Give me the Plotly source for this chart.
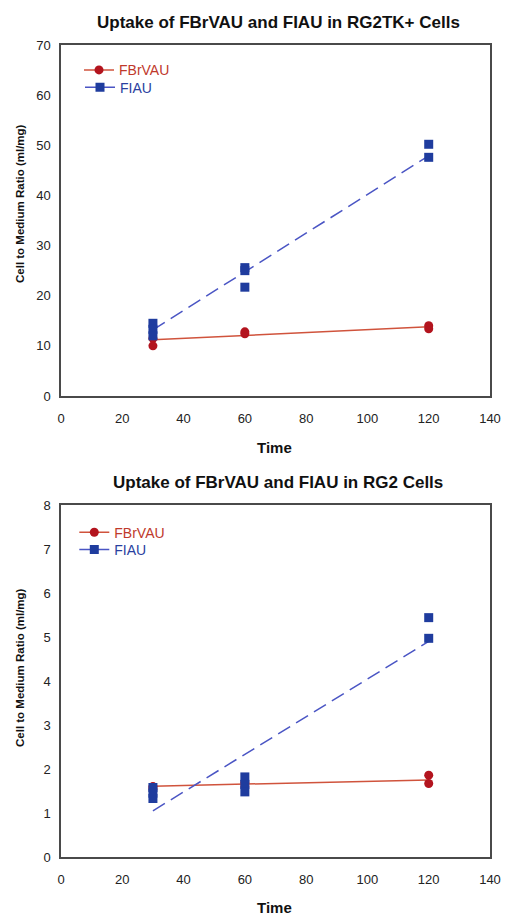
import plotly.graph_objects as go

W, H = 505, 915

# ---------- data ----------
time_fit = [30, 120]

# Top panel: RG2TK+ cells
top_fbr_x = [30, 30, 60, 60, 120, 120]
top_fbr_y = [10.0, 11.5, 12.4, 12.8, 13.4, 14.0]
top_fiau_x = [30, 30, 30, 60, 60, 60, 120, 120]
top_fiau_y = [14.5, 13.3, 12.0, 25.6, 25.0, 21.7, 50.2, 47.6]
top_fbr_fit = [11.2, 13.8]
top_fiau_fit = [13.2, 47.9]

# Bottom panel: RG2 cells
bot_fbr_x = [30, 30, 60, 60, 120, 120]
bot_fbr_y = [1.60, 1.55, 1.70, 1.60, 1.86, 1.67]
bot_fiau_x = [30, 30, 30, 60, 60, 60, 120, 120]
bot_fiau_y = [1.58, 1.45, 1.33, 1.82, 1.65, 1.48, 5.44, 4.97]
bot_fbr_fit = [1.61, 1.75]
bot_fiau_fit = [1.05, 4.90]

titles = ["Uptake of FBrVAU and FIAU in RG2TK+ Cells",
          "Uptake of FBrVAU and FIAU in RG2 Cells"]
y_title = "Cell to Medium Ratio (ml/mg)"
x_title = "Time"
series_names = ["FBrVAU", "FIAU"]

# ---------- styles ----------
FONT = "Liberation Sans, Arial, Helvetica, sans-serif"
RED_MK = "#B3141E"
RED_LN = "#D0533C"
BLUE_MK = "#1F3C9E"
BLUE_LN = "#4A55C4"
RED_TXT = "#C0392B"
BLUE_TXT = "#2A3FA0"
AX = "#4a4a4a"


def px_x(sx):
    return sx / W


def py(sy):
    return (H - sy) / H


fig = go.Figure()

panels = [
    dict(xa="x", ya="y", legs=("legend", "legend2"),
         fbr=(top_fbr_x, top_fbr_y, top_fbr_fit),
         fiau=(top_fiau_x, top_fiau_y, top_fiau_fit)),
    dict(xa="x2", ya="y2", legs=("legend3", "legend4"),
         fbr=(bot_fbr_x, bot_fbr_y, bot_fbr_fit),
         fiau=(bot_fiau_x, bot_fiau_y, bot_fiau_fit)),
]

for p in panels:
    fx, fy, ffit = p["fbr"]
    ix, iy, ifit = p["fiau"]
    fig.add_trace(go.Scatter(x=time_fit, y=ffit, mode="lines", xaxis=p["xa"], yaxis=p["ya"],
                             line=dict(color=RED_LN, width=1.5), showlegend=False, hoverinfo="skip"))
    fig.add_trace(go.Scatter(x=fx, y=fy, mode="markers", xaxis=p["xa"], yaxis=p["ya"],
                             marker=dict(symbol="circle", size=9, color=RED_MK), showlegend=False))
    fig.add_trace(go.Scatter(x=time_fit, y=ifit, mode="lines", xaxis=p["xa"], yaxis=p["ya"],
                             line=dict(color=BLUE_LN, width=1.5, dash="14px,7px"),
                             showlegend=False, hoverinfo="skip"))
    fig.add_trace(go.Scatter(x=ix, y=iy, mode="markers", xaxis=p["xa"], yaxis=p["ya"],
                             marker=dict(symbol="square", size=9, color=BLUE_MK), showlegend=False))
    # legend entries
    fig.add_trace(go.Scatter(x=[None], y=[None], mode="lines+markers", xaxis=p["xa"], yaxis=p["ya"],
                             name=f"<span style='color:{RED_TXT}'>{series_names[0]}</span>",
                             line=dict(color=RED_LN, width=1.5),
                             marker=dict(symbol="circle", size=9, color=RED_MK),
                             legend=p["legs"][0]))
    fig.add_trace(go.Scatter(x=[None], y=[None], mode="lines+markers", xaxis=p["xa"], yaxis=p["ya"],
                             name=f"<span style='color:{BLUE_TXT}'>{series_names[1]}</span>",
                             line=dict(color=BLUE_LN, width=1.5),
                             marker=dict(symbol="square", size=9, color=BLUE_MK),
                             legend=p["legs"][1]))

xdom = [px_x(61), px_x(490)]
common_x = dict(range=[0, 140], tickvals=[0, 20, 40, 60, 80, 100, 120, 140],
                showgrid=False, zeroline=False, showline=True, mirror=True,
                linecolor=AX, linewidth=1.5, ticks="", automargin=False,
                ticklabelstandoff=10,
                tickfont=dict(family=FONT, size=13, color="#222"), domain=xdom)
common_y = dict(showgrid=False, zeroline=False, showline=True, mirror=True,
                linecolor=AX, linewidth=1.5, ticks="", automargin=False,
                ticklabelstandoff=6,
                tickfont=dict(family=FONT, size=13, color="#222"))


def leg(mx, my):
    # marker centre (screen px) -> legend anchor
    return dict(x=px_x(mx - 19), y=py(my - 15), xanchor="left", yanchor="top",
                bgcolor="rgba(0,0,0,0)", font=dict(family=FONT, size=14), itemwidth=30)


fig.update_layout(
    width=W, height=H,
    margin=dict(l=0, r=0, t=0, b=0),
    paper_bgcolor="white", plot_bgcolor="white",
    font=dict(family=FONT, color="#222"),
    xaxis=dict(common_x, anchor="y"),
    yaxis=dict(common_y, range=[0, 70], tickvals=[0, 10, 20, 30, 40, 50, 60, 70],
               domain=[py(396), py(45)], anchor="x"),
    xaxis2=dict(common_x, anchor="y2"),
    yaxis2=dict(common_y, range=[0, 8], tickvals=[0, 1, 2, 3, 4, 5, 6, 7, 8],
                domain=[py(857), py(505)], anchor="x2"),
    legend=leg(98, 69.3),
    legend2=leg(99, 86.7),
    legend3=leg(93.3, 531.7),
    legend4=leg(93.3, 549),
    showlegend=True,
)

ann = []
for t, yy in zip(titles, [22.7, 482.7]):
    ann.append(dict(text=f"<b>{t}</b>", x=px_x(278), y=py(yy), xref="paper", yref="paper",
                    showarrow=False, xanchor="center", yanchor="middle",
                    font=dict(family=FONT, size=17, color="#111")))
for yy in [447.7, 907]:
    ann.append(dict(text=f"<b>{x_title}</b>", x=px_x(274), y=py(yy), xref="paper", yref="paper",
                    showarrow=False, xanchor="center", yanchor="middle",
                    font=dict(family=FONT, size=15, color="#111")))
for yy in [204, 668]:
    ann.append(dict(text=f"<b>{y_title}</b>", x=px_x(20), y=py(yy), xref="paper", yref="paper",
                    showarrow=False, xanchor="center", yanchor="middle", textangle=-90,
                    font=dict(family=FONT, size=11.5, color="#111")))
fig.update_layout(annotations=ann)

fig.write_html("out.html",
               config={"displayModeBar": False},
               post_script="document.body.style.margin='0';document.body.style.overflow='hidden';")
